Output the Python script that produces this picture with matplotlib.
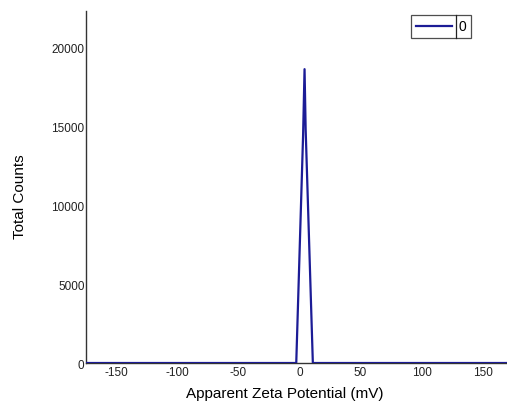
import matplotlib
matplotlib.use("Agg")
import matplotlib.pyplot as plt
from matplotlib.lines import Line2D

zeta_mv = [-175, -2.7, 2.9, 4.1, 5.0, 10.9, 175]
counts = [0, 0, 14400, 18600, 14800, 0, 0]
series_label = "0"
x_ticks = [-150, -100, -50, 0, 50, 100, 150]
y_ticks = [0, 5000, 10000, 15000, 20000]

plt.rcParams['font.family'] = ['Liberation Sans', 'DejaVu Sans']
plt.rcParams['axes.unicode_minus'] = False
fig = plt.figure(figsize=(5.07, 4.02), dpi=100)
ax = fig.add_axes([0.1696, 0.0945, 0.8304, 0.8756])
ax.plot(zeta_mv, counts, color='#1c1c96', lw=1.6, label=series_label, zorder=3)
ax.set_xlim(-175, 170)
ax.set_ylim(0, 22280)
ax.set_xticks(x_ticks)
ax.set_yticks(y_ticks)
ax.tick_params(axis='both', length=0, labelsize=8.5, colors='#222222')
ax.tick_params(axis='y', pad=1)
ax.tick_params(axis='x', pad=2)
for s in ['top', 'right']:
    ax.spines[s].set_visible(False)
for s in ['left', 'bottom']:
    ax.spines[s].set_color('#333333')
    ax.spines[s].set_linewidth(1.0)
ax.set_xlabel('Apparent Zeta Potential (mV)', fontsize=11)
ax.set_ylabel('Total Counts', fontsize=11)
ax.xaxis.set_label_coords(0.472, -0.066)
ax.yaxis.set_label_coords(-0.14, 0.475)
leg = ax.legend(loc='upper right', bbox_to_anchor=(0.915, 0.99), frameon=True,
                fancybox=False, edgecolor='#222222', fontsize=10,
                handlelength=2.6, handletextpad=0.5, borderpad=0.35,
                borderaxespad=0)
leg.get_frame().set_linewidth(0.9)

fig.canvas.draw()
r = fig.canvas.get_renderer()
fb = leg.get_frame().get_window_extent(r)
tb = leg.get_texts()[0].get_window_extent(r)
xd = (tb.x0 - 3) / fig.bbox.width
fig.add_artist(Line2D([xd, xd], [fb.y0 / fig.bbox.height, fb.y1 / fig.bbox.height],
                      color='#222222', lw=0.9, transform=fig.transFigure))
fig.savefig('out.png', dpi=100)
